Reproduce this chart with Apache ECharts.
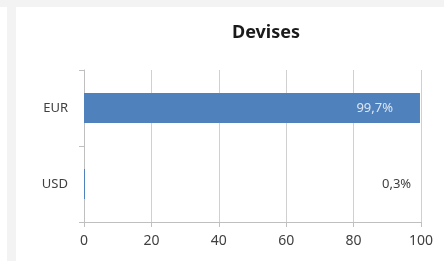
<!DOCTYPE html>
<html>
<head>
<meta charset="utf-8">
<script src="https://cdn.jsdelivr.net/npm/echarts@6/dist/echarts.min.js"></script>
<style>
  html, body { margin: 0; padding: 0; background: #ffffff; }
  #topband { position: absolute; left: 0; top: 0; width: 444px; height: 7px; background: #f3f3f3; }
  #leftband { position: absolute; left: 7px; top: 7px; width: 9px; height: 254px; background: #f3f3f3; }
  #main { position: absolute; left: 0; top: 0; width: 444px; height: 261px; }
</style>
</head>
<body>
<div id="topband"></div>
<div id="leftband"></div>
<div id="main"></div>
<script>
// chart data
var chart_title = 'Devises';
var currencies = ['EUR', 'USD'];
var shares = [99.7, 0.3];
var share_labels = ['99,7%', '0,3%'];
var x_min = 0;
var x_max = 100;
var x_step = 20;

var myChart = echarts.init(document.getElementById('main'));

var bar_data = [];
for (var i = 0; i < shares.length; i++) {
    bar_data.push({ value: shares[i], label_text: share_labels[i] });
}
// EUR label sits inside the bar, USD label is pushed out to the right edge
bar_data[0].label = { position: 'insideRight', offset: [-22, 0], color: '#dce6f2' };
bar_data[1].label = { position: 'right', offset: [292, 0], color: '#404040' };

var option = {
    animation: false,
    textStyle: { fontFamily: 'Noto Sans' },
    title: {
        text: chart_title,
        left: 232,
        top: 24,
        padding: 0,
        textStyle: { fontFamily: 'Noto Sans', fontWeight: 'bold', fontSize: 18, color: '#1a1a1a' }
    },
    grid: { left: 84, right: 23, top: 70, bottom: 39, containLabel: false },
    xAxis: {
        type: 'value',
        min: x_min,
        max: x_max,
        interval: x_step,
        axisLine: { show: true, lineStyle: { color: '#bfbfbf', width: 1 } },
        axisTick: { show: true, length: 5, lineStyle: { color: '#bfbfbf' } },
        axisLabel: { margin: 12, fontSize: 14, color: '#404040', fontFamily: 'Noto Sans' },
        splitLine: { show: true, lineStyle: { color: '#d0d0d0', width: 1 } }
    },
    yAxis: {
        type: 'category',
        data: currencies,
        inverse: true,
        axisLine: { show: true, lineStyle: { color: '#bfbfbf', width: 1 } },
        axisTick: { show: true, length: 5, lineStyle: { color: '#bfbfbf' } },
        axisLabel: { margin: 16, fontSize: 13, color: '#404040', fontFamily: 'Noto Sans' },
        splitLine: { show: false }
    },
    series: [{
        type: 'bar',
        data: bar_data,
        barWidth: 30,
        itemStyle: { color: '#4f81bd' },
        label: {
            show: true,
            fontSize: 13,
            fontFamily: 'Noto Sans',
            formatter: function (params) {
                return params.data.label_text;
            }
        }
    }]
};

myChart.setOption(option);
</script>
</body>
</html>
